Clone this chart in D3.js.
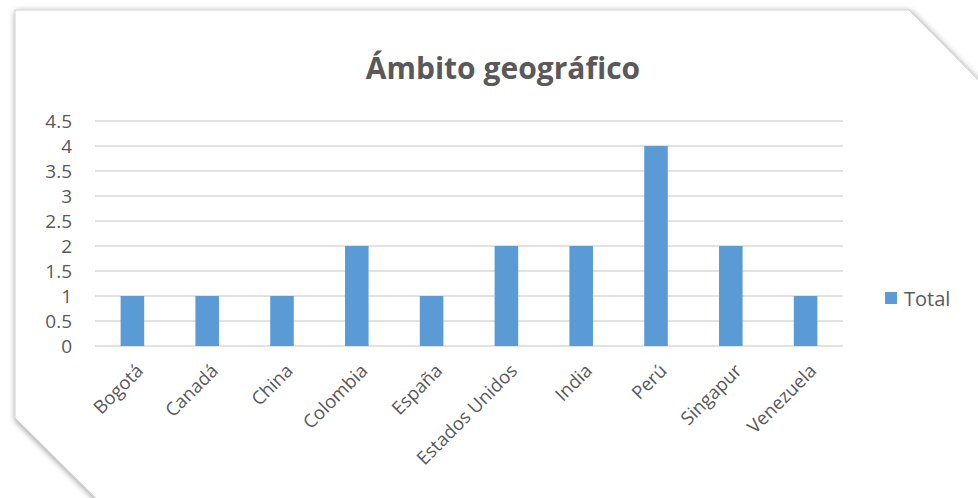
<!DOCTYPE html>
<html>
<head>
<meta charset="utf-8">
<script src="https://cdn.jsdelivr.net/npm/d3@7"></script>
<style>
html,body{margin:0;padding:0;background:#fff;overflow:hidden;}
svg{display:block;}
</style>
</head>
<body>
<svg id="chart" width="978" height="498"></svg>
<script>
const categories = ["Bogotá","Canadá","China","Colombia","España","Estados Unidos","India","Perú","Singapur","Venezuela"];
const totals = [1,1,1,2,1,2,2,4,2,1];
const yTicks = [0,0.5,1,1.5,2,2.5,3,3.5,4,4.5];
const seriesName = "Total";
const chartTitle = "Ámbito geográfico";

(function(){
const svg = d3.select("#chart");
const defs = svg.append("defs");
const f = defs.append("filter").attr("id","shadow").attr("x","-10%").attr("y","-10%").attr("width","120%").attr("height","120%");
f.append("feDropShadow").attr("dx",1).attr("dy",2).attr("stdDeviation",3).attr("flood-color","#000").attr("flood-opacity",0.45);

svg.append("path")
  .attr("d","M15,10 L909,10 L990,92 L990,510 L108,510 L15,418 Z")
  .attr("fill","#fff")
  .attr("stroke","#cfcfcf")
  .attr("stroke-width",1)
  .attr("filter","url(#shadow)");

const pLeft = 95, pRight = 843, pTop = 121, pBottom = 346;
const x = d3.scaleBand().domain(categories).range([pLeft,pRight]).paddingInner(0.685).paddingOuter(0.3425);
const y = d3.scaleLinear().domain([0,4.5]).range([pBottom,pTop]);

const textColor = "#595959";
const font = "'Open Sans', 'Noto Sans', sans-serif";

svg.append("g").selectAll("line").data(yTicks).join("line")
  .attr("x1",pLeft).attr("x2",pRight)
  .attr("y1",d=>y(d)).attr("y2",d=>y(d))
  .attr("stroke","#d9d9d9").attr("stroke-width",1.3);

const yAxis = d3.axisLeft(y).tickValues(yTicks).tickSize(0).tickPadding(0).tickFormat(d3.format("~g"));
const yg = svg.append("g").attr("transform",`translate(72,0)`).call(yAxis);
yg.select(".domain").remove();
yg.selectAll("text").attr("fill",textColor).style("font-family",font).style("font-size","19px");

svg.append("g").selectAll("rect").data(categories).join("rect")
  .attr("x",d=>x(d)).attr("width",x.bandwidth())
  .attr("y",(d,i)=>y(totals[i])).attr("height",(d,i)=>y(0)-y(totals[i]))
  .attr("fill","#5b9bd5");

const xAxis = d3.axisBottom(x).tickSize(0).tickPadding(0);
const xg = svg.append("g").attr("transform",`translate(0,${pBottom})`).call(xAxis);
xg.select(".domain").remove();
xg.selectAll("text")
  .attr("fill",textColor).style("font-family",font).style("font-size","18.5px")
  .attr("text-anchor","end").attr("dy",0).attr("y",0)
  .attr("transform","translate(12,26) rotate(-45)");

svg.append("text").attr("x",503).attr("y",79).attr("text-anchor","middle")
  .attr("fill",textColor).style("font-family",font).style("font-weight","bold").style("font-size","30px")
  .text(chartTitle);

svg.append("rect").attr("x",885).attr("y",292).attr("width",12).attr("height",12).attr("fill","#5b9bd5");
svg.append("text").attr("x",904).attr("y",306).attr("fill",textColor)
  .style("font-family",font).style("font-size","20px").text(seriesName);
})();
</script>
</body>
</html>
